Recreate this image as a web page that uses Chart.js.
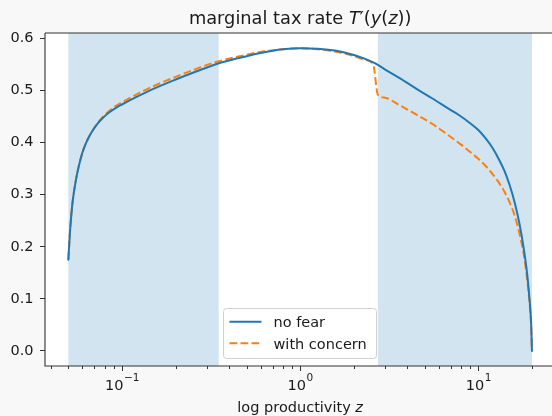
<!DOCTYPE html>
<html>
<head>
<meta charset="utf-8">
<script src="https://cdn.jsdelivr.net/npm/chart.js@4.4.1/dist/chart.umd.min.js"></script>
<style>
html,body{margin:0;padding:0;background:#f8f8f8;overflow:hidden;}
canvas{display:block;}
</style>
</head>
<body>
<canvas id="c" width="552" height="416"></canvas>
<script>
// ---- data ----
const zValues = [0.05,0.051,0.052,0.053,0.055,0.057,0.06,0.063,0.067,0.072,0.078,0.085,0.093,0.1,0.12,0.15,0.2,0.25,0.3,0.35,0.45,0.6,0.8,1.0,1.25,1.6,2.0,2.3,2.57,2.73,3.0,3.6,4.5,5.5,6.8,8.0,9.0,10,11,12,13,14,15,16,17,18,18.8,19.4,19.8,20];
const noFear = [0.175,0.225,0.262,0.29,0.326,0.352,0.381,0.400,0.418,0.434,0.447,0.458,0.467,0.473,0.487,0.503,0.521,0.534,0.544,0.552,0.562,0.572,0.579,0.581,0.580,0.576,0.568,0.561,0.554,0.549,0.540,0.524,0.503,0.485,0.465,0.450,0.437,0.424,0.408,0.390,0.369,0.346,0.318,0.285,0.245,0.196,0.148,0.098,0.052,0.0];
const withConcern = [0.175,0.225,0.262,0.29,0.326,0.352,0.381,0.400,0.418,0.434,0.449,0.461,0.471,0.477,0.492,0.508,0.526,0.539,0.549,0.556,0.565,0.574,0.579,0.581,0.579,0.574,0.566,0.559,0.550,0.492,0.486,0.472,0.4535,0.436,0.414,0.396,0.382,0.369,0.355,0.340,0.324,0.306,0.285,0.260,0.226,0.185,0.138,0.092,0.047,0.0];
const shadedRegions = [[0.05,0.349],[2.73,20]];
const yTicks = [0.0,0.1,0.2,0.3,0.4,0.5,0.6];
const xMajorTicks = [0.1,1,10];
const xMajorExp = ['−1','0','1'];
const xMinorTicks = [0.04,0.05,0.06,0.07,0.08,0.09,0.2,0.3,0.4,0.5,0.6,0.7,0.8,0.9,2,3,4,5,6,7,8,9,20];
const seriesNames = ['no fear','with concern'];

const FONT = '"DejaVu Sans", sans-serif';
const BLUE = '#1f77b4', ORANGE = '#ff7f0e';

const pts = arr => zValues.map((z,i)=>({x:z,y:arr[i]}));

const bgPlugin = {
  id:'bg',
  beforeDraw(chart){
    const {ctx, chartArea:a} = chart;
    ctx.save();
    ctx.fillStyle = '#f8f8f8';
    ctx.fillRect(0,0,chart.width,chart.height);
    ctx.fillStyle = '#ffffff';
    ctx.fillRect(a.left,a.top,a.right-a.left,a.bottom-a.top);
    ctx.restore();
  },
  beforeDatasetsDraw(chart){
    const {ctx, chartArea:a, scales:{x}} = chart;
    ctx.save();
    ctx.fillStyle = 'rgba(31,119,180,0.2)';
    shadedRegions.forEach(([l,r])=>{
      const x0 = x.getPixelForValue(l), x1 = x.getPixelForValue(r);
      ctx.fillRect(x0,a.top,x1-x0,a.bottom-a.top);
    });
    ctx.restore();
  },
  afterDraw(chart){
    const {ctx, chartArea:a, scales:{x}} = chart;
    ctx.save();
    // spines
    ctx.strokeStyle = '#333';
    ctx.lineWidth = 1.1;
    ctx.beginPath();
    ctx.moveTo(a.left, a.top); ctx.lineTo(a.left, a.bottom); ctx.lineTo(chart.width, a.bottom);
    ctx.moveTo(a.left, a.top); ctx.lineTo(chart.width, a.top);
    ctx.stroke();
    // x ticks
    ctx.lineWidth = 1;
    ctx.strokeStyle = '#333';
    ctx.beginPath();
    xMajorTicks.forEach(v=>{const px=Math.round(x.getPixelForValue(v))+0.5; ctx.moveTo(px,a.bottom); ctx.lineTo(px,a.bottom+5);});
    xMinorTicks.forEach(v=>{const px=Math.round(x.getPixelForValue(v))+0.5; ctx.moveTo(px,a.bottom); ctx.lineTo(px,a.bottom+3);});
    ctx.stroke();
    // x tick labels
    ctx.fillStyle = '#1a1a1a';
    ctx.textBaseline = 'alphabetic';
    ctx.textAlign = 'left';
    xMajorTicks.forEach((v,i)=>{
      const px = x.getPixelForValue(v);
      ctx.font = '14.5px ' + FONT;
      const w1 = ctx.measureText('10').width;
      ctx.font = '10.5px ' + FONT;
      const w2 = ctx.measureText(xMajorExp[i]).width;
      const s = px - (w1+w2)/2;
      ctx.font = '14.5px ' + FONT;
      ctx.fillText('10', s, 389.5);
      ctx.font = '10.5px ' + FONT;
      ctx.fillText(xMajorExp[i], s+w1+0.5, 381);
    });
    // x label
    const cx = x.getPixelForValue(1);
    drawRuns(ctx, cx, 412, [['log productivity ', '14.5px '+FONT],['z','italic 14.5px '+FONT]]);
    // title
    const tf = '17.8px '+FONT, tfi = 'italic 17.8px '+FONT;
    drawRuns(ctx, cx, 23.5, [['marginal tax rate ', tf],['T',tfi],['′',tf],['(', tf],['y',tfi],['(', tf],['z',tfi],['))', tf]]);
    // legend
    const lx0=223.5, ly0=308.5, lx1=376.5, ly1=358.5;
    ctx.fillStyle = 'rgba(255,255,255,0.8)';
    ctx.strokeStyle = '#d0d0d0';
    ctx.lineWidth = 1;
    ctx.beginPath();
    ctx.roundRect(lx0, ly0, lx1-lx0, ly1-ly0, 3);
    ctx.fill(); ctx.stroke();
    const entries = [[BLUE,[],321.7,326.7],[ORANGE,[7.7,3.3],343.3,349]];
    entries.forEach(([col,dash,ly,ty],i)=>{
      ctx.strokeStyle = col; ctx.lineWidth = 2; ctx.setLineDash(dash);
      ctx.beginPath(); ctx.moveTo(229.5,ly); ctx.lineTo(261.5,ly); ctx.stroke();
      ctx.setLineDash([]);
      ctx.fillStyle = '#1a1a1a';
      ctx.font = '14.5px ' + FONT;
      ctx.textAlign = 'left';
      ctx.fillText(seriesNames[i], 273.5, ty);
    });
    ctx.restore();
  }
};

function drawRuns(ctx, cx, y, runs){
  let total = 0;
  runs.forEach(([t,f])=>{ctx.font=f; total+=ctx.measureText(t).width;});
  let xx = cx - total/2;
  ctx.fillStyle = '#1a1a1a';
  ctx.textAlign = 'left';
  ctx.textBaseline = 'alphabetic';
  runs.forEach(([t,f])=>{ctx.font=f; ctx.fillText(t,xx,y); xx+=ctx.measureText(t).width;});
}

new Chart(document.getElementById('c'), {
  type:'line',
  data:{
    datasets:[
      {label:seriesNames[0], data:pts(noFear), borderColor:BLUE, borderWidth:2, pointRadius:0, cubicInterpolationMode:'monotone', fill:false, borderCapStyle:'round', borderJoinStyle:'round'},
      {label:seriesNames[1], data:pts(withConcern), borderColor:ORANGE, borderWidth:2, pointRadius:0, cubicInterpolationMode:'monotone', fill:false, borderDash:[7.7,3.3], borderCapStyle:'butt', borderJoinStyle:'round'}
    ]
  },
  options:{
    responsive:false,
    animation:false,
    devicePixelRatio:1,
    layout:{padding:{top:33,left:0,right:0,bottom:0}},
    plugins:{legend:{display:false}, title:{display:false}, tooltip:{enabled:false}},
    scales:{
      x:{
        type:'logarithmic',
        min:Math.pow(10,-1.432),
        max:Math.pow(10,1.4136),
        grid:{display:false},
        border:{display:false},
        ticks:{display:false},
        afterFit(s){ s.height = 50; }
      },
      y:{
        type:'linear',
        min:-0.0288,
        max:0.6102,
        afterBuildTicks(s){ s.ticks = yTicks.map(v=>({value:v})); },
        grid:{drawOnChartArea:false, tickLength:5, color:'#333', tickColor:'#333'},
        border:{display:false},
        ticks:{
          padding:6.5,
          color:'#1a1a1a',
          font:{family:'DejaVu Sans', size:14.5},
          callback:(v)=>Number(v).toFixed(1)
        },
        afterFit(s){ s.width = 45; }
      }
    }
  },
  plugins:[bgPlugin]
});
</script>
</body>
</html>
